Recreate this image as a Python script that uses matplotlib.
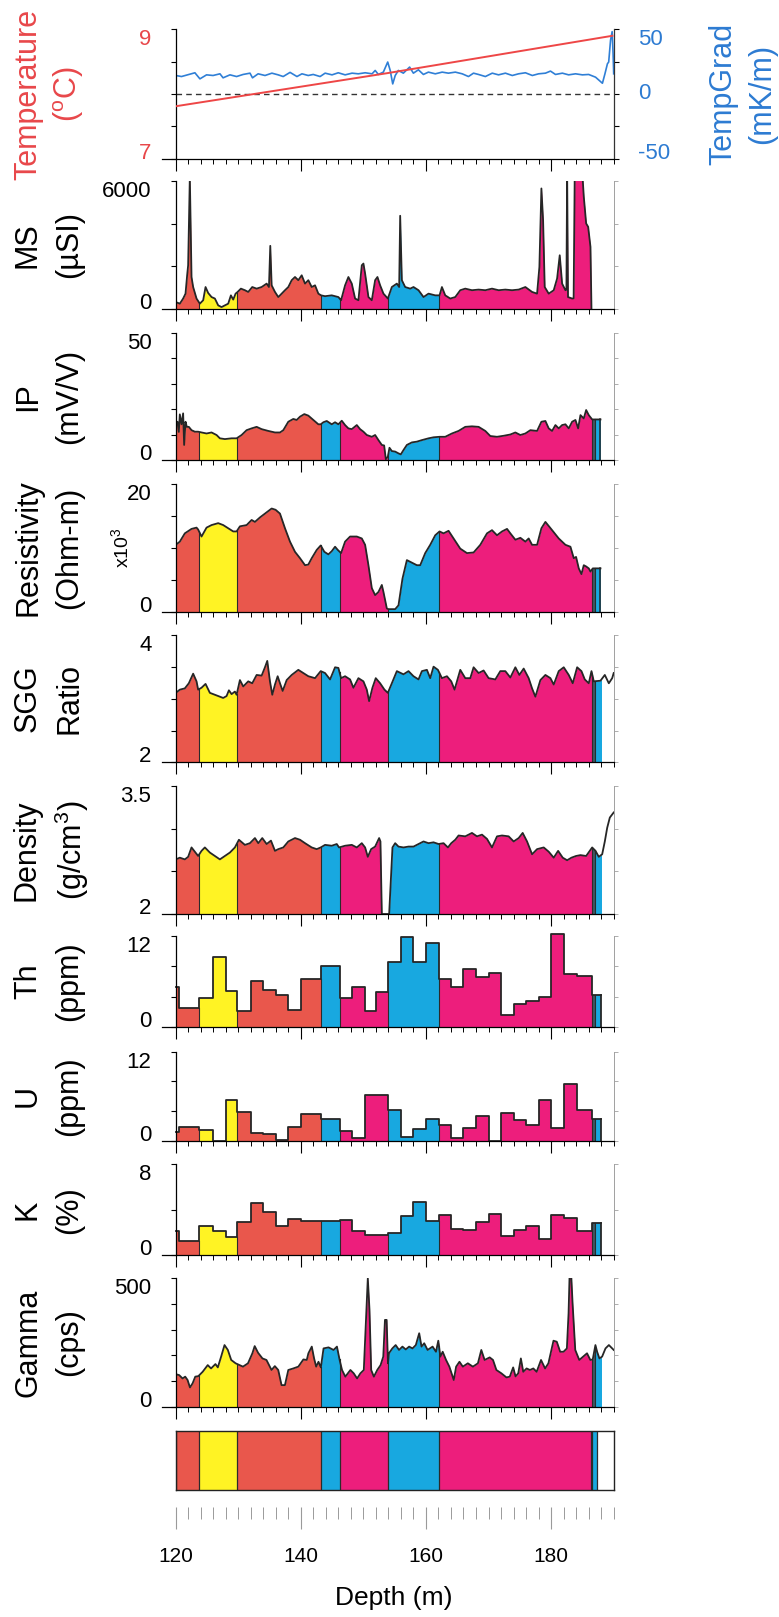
import numpy as np
import matplotlib
matplotlib.use("Agg")
import matplotlib.pyplot as plt
from matplotlib.patches import Rectangle
from matplotlib.transforms import blended_transform_factory

plt.rcParams['font.family'] = ['Liberation Sans', 'DejaVu Sans']
plt.rcParams['mathtext.fontset'] = 'custom'
plt.rcParams['mathtext.rm'] = 'Liberation Sans'
plt.rcParams['mathtext.it'] = 'Liberation Sans:italic'

# ---- lithology units (depth, m) ----
unit_top = [120.0, 123.8, 129.8, 143.2, 146.2, 154.0, 162.1, 186.6, 187.0]
unit_base = [123.8, 129.8, 143.2, 146.2, 154.0, 162.1, 186.6, 187.0, 187.9]
unit_rock = ['red', 'yellow', 'red', 'blue', 'pink', 'blue', 'pink', 'dark', 'blue']

col_top = [120.0, 123.8, 129.8, 143.2, 146.2, 154.0, 162.1, 186.3, 186.6]
col_base = [123.8, 129.8, 143.2, 146.2, 154.0, 162.1, 186.3, 186.6, 187.3]
col_rock = ['red', 'yellow', 'red', 'blue', 'pink', 'blue', 'pink', 'dark', 'blue']

rock_colors = {'red': '#E9574C', 'yellow': '#FFF324', 'blue': '#18A8E0',
               'pink': '#ED1E7C', 'dark': '#3E5862'}

# ---- temperature / gradient ----
temp_depth = [120.0, 153.7, 189.8]
temp_val = [7.81, 8.32, 8.90]

grad_depth = [120.05, 120.96, 123.1, 123.9, 124.96, 126.0, 127.1, 127.6, 128.7, 129.76,
              130.8, 131.9, 132.3, 133.2, 134.3, 135.4, 136.4, 137.2, 138.3, 139.4,
              140.2, 141.2, 142.0, 143.1, 143.9, 145.0, 146.0, 147.1, 148.2, 149.2,
              150.3, 151.4, 151.9, 152.4, 153.2, 153.9, 154.3, 154.7, 155.1, 155.6,
              156.4, 157.4, 158.0, 158.8, 159.6, 160.4, 161.5, 162.6, 163.6, 164.7,
              165.8, 166.8, 167.6, 168.4, 169.5, 170.6, 171.6, 172.7, 173.8, 174.8,
              175.9, 177.0, 178.0, 179.1, 179.9, 180.7, 181.8, 182.8, 183.9, 185.0,
              186.0, 187.1, 188.2, 188.6, 189.0, 189.2, 189.5, 189.75, 189.9, 190.0]
grad_val = [14.3, 13.5, 16.4, 11.7, 14.8, 14.3, 15.6, 12.5, 14.8, 13.5,
            15.1, 16.1, 12.5, 15.6, 14.3, 16.1, 14.8, 13.5, 16.7, 13.5,
            15.6, 14.3, 15.1, 13.5, 16.1, 14.8, 16.4, 14.8, 16.1, 15.6,
            16.4, 15.6, 18.2, 15.1, 16.9, 24.7, 18.2, 7.8, 14.3, 18.2,
            16.1, 20.8, 16.1, 18.7, 15.1, 16.9, 15.6, 16.9, 16.1, 16.9,
            15.6, 13.5, 16.1, 15.1, 13.5, 16.1, 14.8, 16.1, 14.3, 15.6,
            16.4, 14.3, 15.6, 16.1, 17.7, 15.1, 16.1, 14.8, 15.6, 14.8,
            15.1, 13.0, 8.3, 15.6, 23.4, 24.7, 41.7, 48.2, 31.3, 15.6]

# ---- magnetic susceptibility ----
ms_depth = [120.0, 120.69, 121.22, 121.6, 121.86, 122.02, 122.29, 122.56, 122.82, 123.36,
            123.89, 124.42, 124.8, 125.22, 125.76, 126.29, 126.82, 127.36, 127.89, 128.42,
            128.85, 129.22, 129.6, 129.92, 130.45, 131.09, 131.62, 132.26, 132.96, 133.76,
            134.56, 134.93, 135.14, 135.36, 135.89, 136.42, 136.96, 137.49, 138.02, 138.56,
            139.09, 139.62, 140.16, 140.69, 141.22, 141.76, 142.29, 142.82, 143.25, 143.89,
            144.96, 146.02, 146.45, 147.09, 147.62, 148.16, 148.69, 149.22, 149.76, 150.02,
            150.29, 150.82, 151.36, 151.89, 152.26, 152.69, 153.22, 153.92, 154.56, 155.36,
            155.73, 155.89, 156.16, 156.69, 157.49, 158.02, 158.82, 159.62, 160.42, 161.49,
            162.18, 162.56, 163.09, 163.89, 164.69, 165.49, 166.29, 167.36, 168.42, 169.49,
            170.56, 171.62, 172.69, 173.76, 174.82, 175.89, 176.96, 177.76, 178.13, 178.45,
            178.72, 178.98, 179.62, 180.42, 180.96, 181.38, 181.76, 182.29, 182.45, 182.56,
            182.7, 183.36, 183.6, 183.78, 184.16, 184.42, 184.96, 185.22, 185.6, 185.92,
            186.29, 186.45]
ms_val = [330, 250, 490, 720, 1580, 2050, 6200, 1500, 1030, 490,
          250, 410, 1030, 750, 560, 490, 170, 90, 170, 250,
          640, 440, 720, 800, 955, 880, 800, 1030, 955, 1030,
          1190, 1030, 2960, 1110, 800, 560, 720, 880, 1030, 1350,
          1500, 1350, 1580, 1190, 1350, 1030, 1110, 720, 640, 600,
          640, 560, 410, 1110, 1500, 1190, 490, 410, 2050, 2130,
          1660, 560, 410, 1350, 1500, 1110, 720, 490, 1030, 1190,
          1030, 4370, 1350, 1030, 955, 1030, 880, 560, 720, 640,
          640, 1030, 640, 490, 560, 880, 955, 880, 910, 880,
          955, 880, 910, 880, 910, 1030, 800, 720, 1970, 5650,
          4170, 1030, 720, 880, 1430, 2520, 1190, 880, 900, 6500,
          560, 490, 500, 6500, 6500, 6500, 6500, 5270, 4010, 3850,
          2910, 0]

# ---- induced polarisation ----
ip_depth = [120.05, 120.32, 120.53, 120.69, 120.96, 121.22, 121.38, 121.6, 121.81, 122.13,
            122.56, 123.09, 123.62, 124.16, 124.96, 125.76, 126.56, 127.09, 127.89, 128.96,
            129.76, 130.56, 131.36, 132.16, 132.96, 133.76, 134.82, 135.89, 136.69, 137.22,
            138.02, 138.82, 139.36, 139.89, 140.58, 141.22, 142.02, 142.82, 143.2, 143.62,
            144.16, 144.96, 145.49, 146.02, 146.56, 147.09, 147.62, 148.16, 148.96, 149.49,
            150.02, 150.56, 151.36, 151.89, 152.42, 152.96, 153.33, 153.6, 153.92, 154.18,
            154.56, 155.09, 155.62, 155.99, 156.42, 156.96, 157.76, 158.56, 159.36, 160.42,
            161.22, 162.18, 163.09, 164.16, 165.22, 166.29, 167.36, 168.42, 169.49, 170.29,
            171.36, 172.42, 173.49, 174.29, 175.09, 175.89, 176.69, 177.76, 178.45, 179.09,
            179.62, 180.16, 180.69, 181.22, 181.76, 182.29, 182.82, 183.36, 183.89, 184.32,
            184.69, 185.22, 185.6, 186.02, 186.56, 187.89]
ip_val = [13.7, 15.0, 11.0, 17.9, 14.0, 18.3, 5.9, 15.0, 13.0, 13.0,
          11.7, 11.1, 11.1, 10.8, 10.4, 10.8, 9.8, 8.5, 8.2, 8.5,
          8.5, 9.8, 11.7, 12.4, 13.0, 12.1, 11.4, 10.8, 10.8, 11.7,
          15.0, 16.1, 15.7, 17.0, 18.0, 17.4, 15.7, 14.0, 14.0, 14.8,
          15.3, 14.0, 14.8, 14.0, 15.4, 13.7, 12.4, 12.1, 13.7, 12.1,
          11.1, 9.8, 9.1, 9.8, 7.8, 5.9, 5.7, 0.3, 1.3, 4.8,
          3.5, 3.3, 2.6, 2.2, 3.9, 5.9, 6.9, 7.2, 7.8, 8.5,
          8.9, 9.1, 9.1, 10.4, 11.4, 13.0, 13.2, 13.0, 11.4, 9.4,
          9.1, 9.5, 10.0, 10.8, 9.8, 10.4, 11.7, 11.4, 15.0, 15.3,
          12.4, 11.4, 13.7, 12.4, 13.7, 14.0, 12.4, 15.0, 15.7, 12.4,
          17.6, 16.3, 19.6, 17.6, 15.9, 15.9]

# ---- resistivity (x1000 Ohm-m) ----
res_depth = [120.05, 120.69, 121.49, 122.56, 123.36, 123.62, 124.16, 124.96, 125.76, 126.82,
             127.62, 128.42, 129.22, 129.76, 130.29, 131.36, 132.16, 132.69, 133.49, 134.29,
             135.36, 135.99, 136.69, 137.49, 138.29, 139.09, 139.89, 140.69, 141.22, 141.76,
             142.56, 143.2, 143.78, 144.42, 144.96, 145.49, 145.92, 146.45, 147.09, 147.89,
             148.96, 149.76, 150.29, 150.82, 151.36, 151.89, 152.42, 152.96, 153.22, 153.76,
             154.02, 155.09, 155.62, 156.26, 156.96, 157.76, 158.56, 159.09, 159.89, 160.69,
             161.49, 162.18, 162.82, 163.62, 164.42, 165.49, 166.56, 167.62, 168.69, 169.76,
             170.56, 171.36, 172.16, 172.96, 173.49, 174.29, 175.09, 175.89, 176.42, 176.96,
             177.76, 178.45, 179.09, 180.16, 181.22, 182.29, 183.09, 183.62, 183.99, 184.42,
             184.85, 185.22, 185.6, 186.02, 186.29, 186.66, 187.89]
res_val = [10.5, 11.0, 12.3, 13.0, 13.2, 12.9, 11.8, 13.2, 13.6, 13.9,
           13.6, 13.1, 12.6, 12.6, 13.4, 13.6, 14.4, 14.1, 14.8, 15.4,
           16.2, 16.0, 15.4, 13.1, 11.0, 9.4, 8.4, 7.3, 7.4, 8.4,
           9.7, 10.4, 9.4, 9.0, 9.5, 10.2, 9.7, 9.2, 11.0, 11.8,
           11.8, 11.5, 10.5, 7.3, 3.7, 2.6, 3.1, 4.2, 3.1, 0.5,
           0.4, 0.4, 1.0, 5.2, 8.1, 7.7, 7.3, 7.3, 9.2, 10.5,
           12.0, 12.6, 12.3, 12.7, 11.5, 9.9, 9.2, 9.3, 10.5, 12.3,
           12.8, 12.0, 12.6, 13.0, 12.3, 11.3, 11.6, 11.0, 11.5, 10.5,
           10.5, 13.1, 14.1, 12.8, 11.5, 10.5, 10.2, 8.4, 8.6, 6.8,
           5.9, 7.3, 7.1, 6.8, 6.3, 6.8, 6.8]

# ---- SGG ratio ----
sgg_depth = [120.05, 120.69, 121.49, 122.13, 122.82, 123.36, 123.62, 124.16, 124.8, 125.49,
             126.29, 127.09, 127.62, 128.16, 128.53, 128.96, 129.49, 129.76, 130.29, 130.82,
             131.62, 132.26, 132.96, 133.76, 134.29, 134.66, 135.09, 135.46, 135.89, 136.32,
             136.69, 137.12, 137.76, 138.56, 139.62, 140.42, 141.22, 142.29, 143.2, 143.89,
             144.69, 145.49, 146.02, 146.45, 147.09, 147.89, 148.42, 149.22, 150.02, 150.56,
             150.93, 151.46, 151.99, 152.69, 153.38, 153.92, 154.56, 155.36, 156.42, 157.22,
             158.02, 158.82, 159.36, 160.16, 160.69, 161.22, 161.92, 162.56, 163.36, 164.05,
             164.58, 165.49, 166.29, 167.09, 167.62, 168.42, 169.22, 170.02, 171.09, 171.89,
             172.69, 173.49, 174.29, 174.93, 175.62, 176.42, 176.96, 177.49, 178.29, 179.09,
             179.89, 180.42, 181.22, 182.02, 182.82, 183.46, 184.16, 184.85, 185.38, 186.02,
             186.45, 186.82, 187.89, 188.58, 189.22, 189.76, 190.0]
sgg_val = [3.09, 3.14, 3.16, 3.24, 3.39, 3.27, 3.14, 3.17, 3.23, 3.09,
           3.06, 3.03, 3.01, 3.04, 3.13, 3.07, 3.11, 3.06, 3.29, 3.19,
           3.27, 3.24, 3.37, 3.36, 3.49, 3.59, 3.27, 3.06, 3.22, 3.35,
           3.24, 3.12, 3.29, 3.37, 3.45, 3.40, 3.35, 3.32, 3.43, 3.40,
           3.30, 3.49, 3.48, 3.32, 3.35, 3.30, 3.17, 3.32, 3.27, 3.14,
           2.96, 3.17, 3.32, 3.24, 3.14, 3.09, 3.24, 3.43, 3.38, 3.43,
           3.35, 3.30, 3.43, 3.45, 3.32, 3.50, 3.45, 3.32, 3.35, 3.27,
           3.14, 3.45, 3.32, 3.32, 3.49, 3.40, 3.44, 3.32, 3.30, 3.43,
           3.43, 3.33, 3.49, 3.37, 3.47, 3.32, 3.16, 3.03, 3.29, 3.37,
           3.32, 3.22, 3.43, 3.49, 3.37, 3.24, 3.49, 3.43, 3.30, 3.24,
           3.43, 3.27, 3.28, 3.37, 3.24, 3.32, 3.40]

# ---- density (g/cm3) ----
den_depth = [120.05, 120.69, 121.49, 122.02, 122.56, 123.09, 123.62, 124.16, 124.69, 125.49,
             126.29, 127.09, 127.89, 128.69, 129.49, 130.13, 131.09, 131.89, 132.69, 133.22,
             133.86, 134.56, 135.25, 135.89, 136.42, 137.22, 138.02, 139.09, 139.89, 140.69,
             141.76, 142.56, 143.2, 143.89, 144.96, 145.76, 146.13, 147.09, 148.16, 148.96,
             149.76, 150.29, 150.72, 151.25, 151.89, 152.53, 152.74, 152.96, 154.13, 154.66,
             155.09, 155.62, 156.42, 157.22, 158.02, 158.82, 159.62, 160.42, 161.22, 162.02,
             162.82, 163.52, 164.05, 164.69, 165.22, 166.29, 167.36, 168.16, 168.96, 169.76,
             170.56, 171.36, 172.16, 173.22, 174.02, 174.82, 175.46, 176.16, 176.96, 177.76,
             178.82, 179.62, 180.42, 181.12, 181.86, 182.56, 183.25, 183.99, 184.69, 185.6,
             186.56, 187.09, 187.62, 188.16, 188.58, 188.96, 189.38, 190.0]
den_val = [2.64, 2.66, 2.64, 2.67, 2.78, 2.73, 2.68, 2.74, 2.78, 2.72,
           2.68, 2.64, 2.68, 2.72, 2.78, 2.87, 2.81, 2.83, 2.89, 2.83,
           2.89, 2.82, 2.86, 2.74, 2.76, 2.78, 2.85, 2.89, 2.87, 2.83,
           2.78, 2.76, 2.78, 2.81, 2.80, 2.82, 2.78, 2.80, 2.81, 2.78,
           2.83, 2.78, 2.67, 2.76, 2.79, 2.89, 2.85, 2.0, 2.0, 2.78,
           2.83, 2.79, 2.78, 2.79, 2.79, 2.82, 2.85, 2.83, 2.84, 2.82,
           2.83, 2.78, 2.83, 2.87, 2.92, 2.91, 2.95, 2.91, 2.93, 2.88,
           2.78, 2.91, 2.92, 2.91, 2.85, 2.89, 2.95, 2.85, 2.70, 2.76,
           2.78, 2.73, 2.66, 2.74, 2.66, 2.63, 2.66, 2.68, 2.69, 2.68,
           2.78, 2.74, 2.67, 2.70, 2.85, 3.01, 3.13, 3.19]

# ---- spectral gamma (sample intervals) ----
spec_edges = [120.0, 120.6, 123.8, 126.0, 128.0, 129.8, 132.0, 134.0, 136.0, 138.0,
              140.0, 143.2, 146.2, 148.2, 150.2, 152.1, 154.0, 156.0, 158.0, 160.0,
              162.1, 164.0, 166.0, 168.0, 170.0, 172.0, 174.0, 176.0, 178.0, 180.0,
              182.0, 184.2, 186.6, 187.9]
th_val = [5.3, 2.6, 3.9, 9.3, 4.8, 2.2, 6.1, 4.9, 4.3, 2.3,
          6.4, 8.1, 3.9, 5.3, 2.2, 4.6, 8.6, 11.9, 8.6, 11.1,
          6.4, 5.3, 7.7, 6.6, 7.2, 1.6, 3.1, 3.5, 4.0, 12.2,
          7.0, 6.75, 4.3]
u_val = [1.2, 1.9, 1.5, 0.0, 5.5, 3.9, 1.1, 1.0, 0.1, 1.9,
         3.6, 3.0, 1.4, 0.4, 6.2, 6.2, 4.1, 0.5, 1.6, 2.9,
         2.2, 0.4, 1.7, 3.4, 0.0, 3.8, 2.8, 2.1, 5.5, 1.8,
         7.7, 4.1, 3.0]
k_val = [2.1, 1.2, 2.6, 2.1, 1.6, 2.9, 4.6, 3.8, 2.6, 3.2,
         3.0, 3.0, 3.1, 2.1, 1.8, 1.8, 1.9, 3.4, 4.7, 3.0,
         3.5, 2.3, 2.2, 2.9, 3.6, 1.7, 2.2, 2.6, 1.4, 3.5,
         3.3, 2.1, 2.8]

# ---- total gamma (cps) ----
gam_depth = [120.0, 120.59, 121.13, 121.55, 121.93, 122.31, 122.73, 123.16, 123.65, 124.34,
             125.15, 125.68, 126.38, 126.76, 127.29, 127.83, 128.36, 128.9, 129.6, 130.24,
             130.78, 131.58, 132.28, 132.65, 133.19, 133.89, 134.53, 135.34, 135.87, 136.41,
             136.94, 137.48, 138.02, 138.82, 139.62, 140.43, 140.97, 141.23, 141.77, 142.14,
             142.47, 142.84, 143.22, 143.65, 144.45, 145.25, 145.79, 146.22, 146.6, 147.13,
             147.94, 148.47, 149.01, 149.54, 150.08, 150.51, 150.72, 150.99, 151.26, 151.69,
             152.23, 152.76, 153.19, 153.46, 153.73, 153.94, 154.1, 154.64, 155.17, 155.71,
             156.25, 156.78, 157.32, 157.86, 158.39, 158.93, 159.3, 159.73, 160.27, 161.07,
             161.61, 161.98, 162.31, 162.68, 163.22, 163.75, 164.45, 164.83, 165.36, 165.9,
             166.7, 167.51, 168.31, 168.85, 169.38, 170.19, 170.72, 171.26, 172.06, 172.87,
             173.4, 173.94, 174.32, 174.75, 175.17, 175.55, 176.09, 176.62, 177.16, 177.69,
             178.39, 179.04, 179.57, 180.38, 180.91, 181.45, 181.98, 182.52, 182.79, 182.95,
             183.22, 183.43, 183.86, 184.5, 185.2, 185.74, 186.27, 186.65, 187.08, 187.35,
             187.72, 188.15, 188.69, 189.23, 190.0]
gam_val = [127, 123, 110, 117, 104, 75, 91, 117, 119, 136,
           162, 149, 166, 153, 195, 240, 221, 182, 169, 162,
           156, 169, 208, 236, 210, 188, 182, 143, 158, 143,
           84, 84, 143, 149, 156, 184, 182, 208, 234, 188,
           156, 175, 153, 227, 231, 221, 234, 182, 143, 117,
           143, 130, 110, 130, 143, 377, 500, 377, 143, 117,
           143, 162, 195, 338, 338, 169, 208, 227, 240, 221,
           234, 223, 234, 227, 240, 286, 234, 247, 221, 234,
           214, 257, 195, 214, 182, 156, 104, 156, 175, 156,
           169, 156, 169, 221, 182, 192, 182, 143, 130, 114,
           117, 153, 118, 130, 188, 136, 149, 143, 149, 136,
           182, 149, 169, 257, 253, 214, 214, 227, 364, 510,
           510, 403, 221, 182, 197, 208, 182, 184, 240, 214,
           188, 195, 227, 240, 221]

RED_TXT = '#E8474A'
BLUE_TXT = '#2D7BD2'
LINE_C = '#262626'
EDGE_C = '#2b2b2b'

W, H = 779, 1617
X0, XW = 175.5, 438.2
fig = plt.figure(figsize=(W / 100, H / 100), dpi=100)


def panel(top, bot):
    ax = fig.add_axes([X0 / W, 1 - bot / H, XW / W, (bot - top) / H])
    ax.set_xlim(120, 190)
    ax.set_xticks([120, 140, 160, 180])
    ax.set_xticks(np.arange(120, 191, 2), minor=True)
    ax.tick_params(axis='x', which='major', direction='out', length=8.5, width=0.8,
                   labelbottom=False)
    ax.tick_params(axis='x', which='minor', direction='out', length=3.6, width=0.7)
    ax.spines['top'].set_visible(False)
    ax.spines['right'].set_visible(False)
    ax.spines['bottom'].set_bounds(117.8, 190)
    ax.spines['bottom'].set_linewidth(0.9)
    ax.spines['left'].set_linewidth(0.9)
    return ax


def yaxis(ax, ticks, lo, hi, color='black', right=True):
    ax.set_ylim(ticks[0], ticks[-1])
    ax.set_yticks(ticks)
    ax.tick_params(axis='y', direction='out', length=3.6, width=0.8, labelleft=False)
    tr = blended_transform_factory(ax.transAxes, ax.transData)
    ax.text(-0.055, ticks[-1], hi, transform=tr, ha='right', va='top', fontsize=16, color=color)
    ax.text(-0.055, ticks[0], lo, transform=tr, ha='right', va='baseline', fontsize=16, color=color)
    if right:
        sec = ax.secondary_yaxis('right')
        sec.set_yticks(ticks)
        sec.tick_params(direction='out', length=3, width=0.6, colors='#a0a0a0', labelright=False)
        sec.spines['right'].set_color('#a0a0a0')
        sec.spines['right'].set_linewidth(0.7)


def fill_units(ax, x, y, base, top, step=False):
    kw = {'step': 'post'} if step else {}
    for a, b, r in zip(unit_top, unit_base, unit_rock):
        poly = ax.fill_between(x, base, y, color=rock_colors[r], linewidth=0, **kw)
        poly.set_clip_path(Rectangle((a, base), b - a, top - base, transform=ax.transData))


def unit_edges(ax, x, y, base, step=False):
    x = np.asarray(x)
    y = np.asarray(y)
    for b in unit_base[:-1]:
        if b > x[-1]:
            continue
        if step:
            i = np.searchsorted(x, b, side='right') - 1
            i = min(i, len(y) - 1)
            h = min(y[i], y[i - 1]) if np.any(np.isclose(x, b)) else y[i]
        else:
            h = np.interp(b, x, y)
        ax.plot([b, b], [base, h], color=EDGE_C, lw=0.8)


def curve_panel(top, bot, x, y, ticks, lo, hi, close_end=False):
    ax = panel(top, bot)
    yaxis(ax, ticks, lo, hi)
    base = ticks[0]
    fill_units(ax, x, y, base, ticks[-1])
    unit_edges(ax, x, y, base)
    ax.plot(x, y, color=LINE_C, lw=1.3)
    if close_end:
        ax.plot([x[-1], x[-1]], [y[-1], base], color=LINE_C, lw=1.1)
    return ax


def step_panel(top, bot, vals, ticks, lo, hi):
    ax = panel(top, bot)
    yaxis(ax, ticks, lo, hi)
    ys = list(vals) + [vals[-1]]
    fill_units(ax, spec_edges, ys, 0, ticks[-1] * 1.03, step=True)
    unit_edges(ax, spec_edges, vals, 0, step=True)
    ax.step(spec_edges, ys, where='post', color=LINE_C, lw=1.3, clip_on=False)
    ax.plot([spec_edges[-1], spec_edges[-1]], [vals[-1], 0], color=LINE_C, lw=1.3)
    return ax


def side_label(line1, line2, top, bot, color='black', x1=28, x2=69):
    yc = 1 - (top + bot) / 2 / H
    fig.text(x1 / W, yc, line1, rotation=90, ha='center', va='center', fontsize=22, color=color)
    fig.text(x2 / W, yc, line2, rotation=90, ha='center', va='center', fontsize=22, color=color)


# ---- temperature panel ----
axT = panel(29.3, 158.7)
yaxis(axT, [7, 7.5, 8, 8.5, 9], '7', '9', color=RED_TXT, right=False)
tw = axT.twinx()
tw.set_ylim(-50, 50)
tw.set_yticks([-50, -25, 0, 25, 50])
tw.tick_params(axis='y', direction='out', length=3.6, width=0.8, labelright=False)
for s in ['top', 'left', 'bottom']:
    tw.spines[s].set_visible(False)
tw.spines['right'].set_color('#333333')
tw.spines['right'].set_linewidth(0.9)
tw.axhline(0, color='#333333', lw=1.0, ls=(0, (4, 3)))
tw.plot(grad_depth, grad_val, color='#2F7FD6', lw=1.2)
axT.plot(temp_depth, temp_val, color='#EE4646', lw=1.4, zorder=5)
axT.set_zorder(tw.get_zorder() + 1)
axT.patch.set_visible(False)
trw = blended_transform_factory(tw.transAxes, tw.transData)
tw.text(1.055, 50, '50', transform=trw, ha='left', va='top', fontsize=16, color=BLUE_TXT)
tw.text(1.055, 0, '0', transform=trw, ha='left', va='center', fontsize=16, color=BLUE_TXT)
tw.text(1.055, -50, '-50', transform=trw, ha='left', va='baseline', fontsize=16, color=BLUE_TXT)
side_label('Temperature', '($^{\\rm o}$C)', 29.3, 158.7, color=RED_TXT)
side_label('TempGrad', '(mK/m)', 29.3, 158.7, color=BLUE_TXT, x1=723, x2=762)

# ---- logs ----
curve_panel(181, 309, ms_depth, ms_val, [0, 2000, 4000, 6000], '0', '6000')
side_label('MS', '(µSI)', 181, 309)

curve_panel(332.5, 460, ip_depth, ip_val, [0, 10, 20, 30, 40, 50], '0', '50', close_end=True)
side_label('IP', '(mV/V)', 332.5, 460)

curve_panel(484.3, 611.7, res_depth, res_val, [0, 5, 10, 15, 20], '0', '20', close_end=True)
side_label('Resistivity', '(Ohm-m)', 484.3, 611.7)
fig.text(121 / W, 1 - 548 / H, 'x10$^3$', rotation=90, ha='center', va='center', fontsize=14)

curve_panel(634.7, 762.5, sgg_depth, sgg_val, [2, 2.5, 3, 3.5, 4], '2', '4')
side_label('SGG', 'Ratio', 634.7, 762.5)

curve_panel(786, 914, den_depth, den_val, [2, 2.5, 3, 3.5], '2', '3.5')
side_label('Density', '(g/cm$^3$)', 786, 914, x1=26, x2=72)

step_panel(936, 1027.3, th_val, [0, 4, 8, 12], '0', '12')
side_label('Th', '(ppm)', 936, 1027.3)

step_panel(1051.7, 1141, u_val, [0, 4, 8, 12], '0', '12')
side_label('U', '(ppm)', 1051.7, 1141)

step_panel(1164.3, 1255, k_val, [0, 4, 8], '0', '8')
side_label('K', '(%)', 1164.3, 1255)

curve_panel(1278.3, 1406.7, gam_depth, gam_val, [0, 100, 200, 300, 400, 500], '0', '500')
side_label('Gamma', '(cps)', 1278.3, 1406.7)

# ---- lithology column ----
axL = fig.add_axes([X0 / W, 1 - 1490 / H, XW / W, (1490 - 1431) / H])
axL.set_xlim(120, 190)
axL.set_ylim(0, 1)
axL.set_xticks([])
axL.set_yticks([])
for a, b, r in zip(col_top, col_base, col_rock):
    axL.axvspan(a, b, color=rock_colors[r], lw=0)
    axL.axvline(a, color=EDGE_C, lw=0.9)
axL.axvline(col_base[-1], color=EDGE_C, lw=0.9)
for s in axL.spines.values():
    s.set_linewidth(1.0)
    s.set_color('#222222')

# ---- depth scale ----
axD = fig.add_axes([X0 / W, 1 - 1507 / H, XW / W, 0.0005])
axD.set_xlim(120, 190)
axD.set_yticks([])
for s in axD.spines.values():
    s.set_visible(False)
axD.patch.set_visible(False)
axD.set_xticks([120, 140, 160, 180])
axD.set_xticklabels(['120', '140', '160', '180'])
axD.set_xticks(np.arange(120, 191, 2), minor=True)
axD.tick_params(axis='x', which='major', direction='out', length=16, width=0.8,
                color='#9a9a9a', labelsize=15, pad=13)
axD.tick_params(axis='x', which='minor', direction='out', length=8.3, width=0.7, color='#9a9a9a')
fig.text(394 / W, 1 - 1598 / H, 'Depth (m)', ha='center', va='center', fontsize=19)

fig.savefig('out.png', dpi=100)
